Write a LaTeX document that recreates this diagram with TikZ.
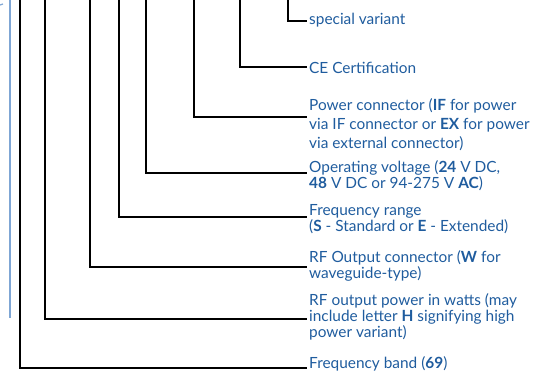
\documentclass[tikz,border=0pt]{standalone}
\usepackage{fontspec}
\setmainfont{Lato}
\definecolor{lblblue}{HTML}{1F5C9E}
\definecolor{barblue}{HTML}{7FA6D4}

\begin{document}
\begin{tikzpicture}[x=1pt,y=-1pt,
  lbl/.style={anchor=west,align=left,text=lblblue,inner sep=0pt,
    font=\fontsize{15.4}{16}\selectfont},
  lead/.style={line width=1.6pt,black},
  bar/.style={line width=1.2pt,barblue}]
  \useasboundingbox (0,0) rectangle (543,371);
  % labels, top to bottom
  \node[lbl] (var)   at (309,20)  {special variant};
  \node[lbl] (ce)    at (309,68)  {CE Certification};
  \node[lbl,font=\fontsize{15.4}{19}\selectfont] (pwr) at (309,125)
    {Power connector (\textbf{IF} for power\\via IF connector or \textbf{EX} for power\\via external connector)};
  \node[lbl] (volt)  at (309,176) {Operating voltage (\textbf{24} V DC,\\\textbf{48} V DC or 94-275 V \textbf{AC})};
  \node[lbl] (range) at (309,219) {Frequency range\\(\textbf{S} - Standard or \textbf{E} - Extended)};
  \node[lbl] (rfcon) at (309,266) {RF Output connector (\textbf{W} for\\waveguide-type)};
  \node[lbl] (rfpow) at (309,317) {RF output power in watts (may\\include letter \textbf{H} signifying high\\power variant)};
  \node[lbl] (band)  at (309,364) {Frequency band (\textbf{69})};
  % top ends of the leaders
  \coordinate (tband)  at (20,0);
  \coordinate (trfpow) at (45,0);
  \coordinate (trfcon) at (90,0);
  \coordinate (trange) at (119,0);
  \coordinate (tvolt)  at (146,0);
  \coordinate (tpwr)   at (194,0);
  \coordinate (tce)    at (240,0);
  \coordinate (tvar)   at (288,0);
  % leaders
  \draw[lead] (tvar)   |- ([xshift=-2pt,yshift=-1pt]var.west);
  \draw[lead] (tce)    |- ([xshift=-2pt,yshift=1pt]ce.west);
  \draw[lead] (tpwr)   |- ([xshift=-2pt,yshift=8pt]pwr.west);
  \draw[lead] (tvolt)  |- ([xshift=-2pt,yshift=3pt]volt.west);
  \draw[lead] (trange) |- ([xshift=-2pt,yshift=2pt]range.west);
  \draw[lead] (trfcon) |- ([xshift=-2pt,yshift=-1pt]rfcon.west);
  \draw[lead] (trfpow) |- ([xshift=-2pt,yshift=-2pt]rfpow.west);
  \draw[lead] (tband)  |- ([xshift=-2pt,yshift=-4pt]band.west);
  % blue bar at the left
  \coordinate (bartop) at (10,0);
  \coordinate (barbot) at (10,318);
  \draw[bar] (bartop) -- (barbot);
  \draw[bar] (0,5) -- (3,4);
\end{tikzpicture}
\end{document}
